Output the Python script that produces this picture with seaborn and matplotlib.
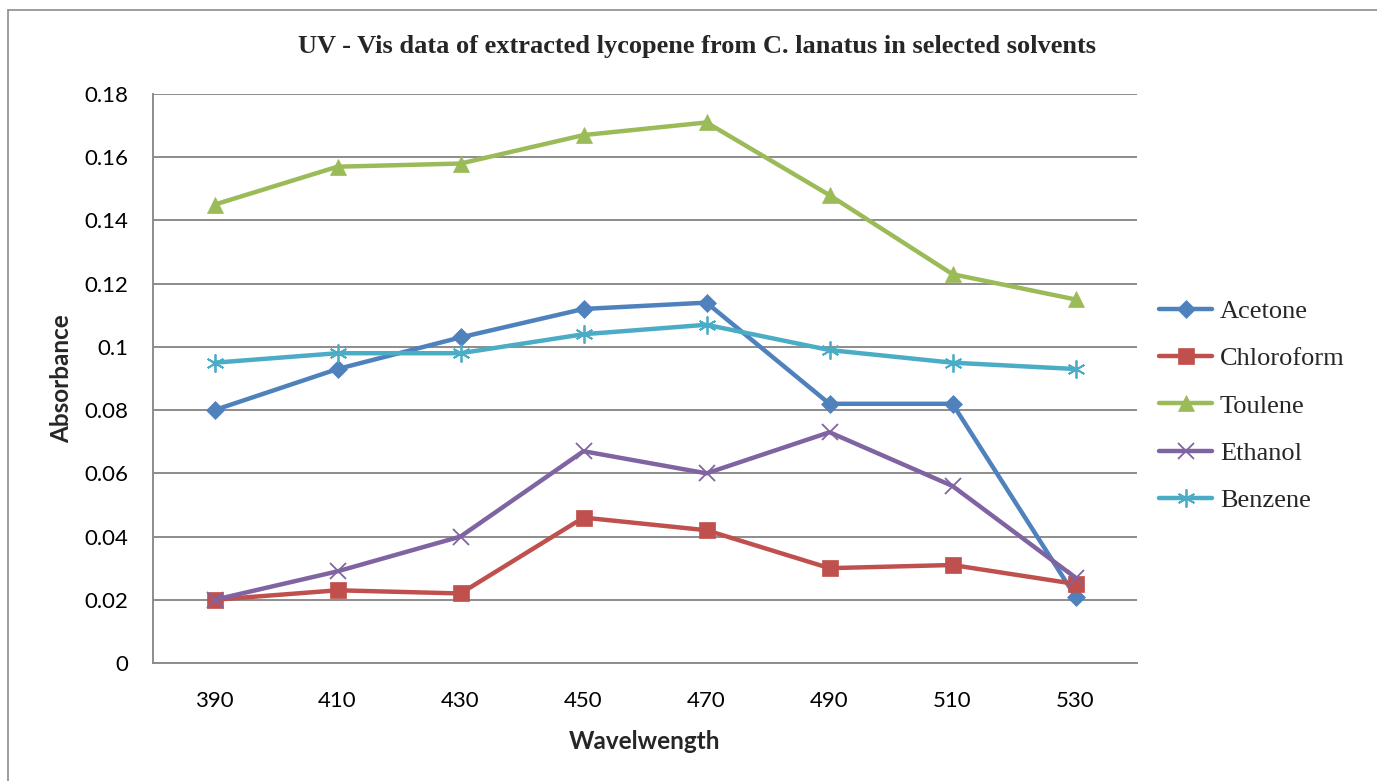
import matplotlib
matplotlib.use("Agg")
import matplotlib.pyplot as plt
from matplotlib.lines import Line2D
import seaborn as sns
import pandas as pd

wavelengths = ["390", "410", "430", "450", "470", "490", "510", "530"]
acetone = [0.080, 0.093, 0.103, 0.112, 0.114, 0.082, 0.082, 0.021]
chloroform = [0.020, 0.023, 0.022, 0.046, 0.042, 0.030, 0.031, 0.025]
toulene = [0.145, 0.157, 0.158, 0.167, 0.171, 0.148, 0.123, 0.115]
ethanol = [0.020, 0.029, 0.040, 0.067, 0.060, 0.073, 0.056, 0.027]
benzene = [0.095, 0.098, 0.098, 0.104, 0.107, 0.099, 0.095, 0.093]
series_names = ["Acetone", "Chloroform", "Toulene", "Ethanol", "Benzene"]
yticks = [0, 0.02, 0.04, 0.06, 0.08, 0.1, 0.12, 0.14, 0.16, 0.18]

sns.set_theme(style="white")
plt.rcParams['font.family'] = ['Lato', 'DejaVu Sans']

series_values = [acetone, chloroform, toulene, ethanol, benzene]
colors = ["#4F81BD", "#C0504D", "#9BBB59", "#8064A2", "#4BACC6"]
markers = ["D", "s", "^", "x", (6, 2, 0)]
msizes = [9, 11, 11, 11, 13]

fig = plt.figure(figsize=(13.77, 7.81), dpi=100)
ax = fig.add_axes([153/1377, 1-663/781, (1137-153)/1377, (663-94)/781])

for name, vals, c, m, ms in zip(series_names, series_values, colors, markers, msizes):
    df = pd.DataFrame({"Wavelwength": list(range(len(wavelengths))), "Absorbance": vals})
    unfilled = m in ("x",) or isinstance(m, tuple)
    sns.lineplot(data=df, x="Wavelwength", y="Absorbance", ax=ax, color=c,
                 marker=m, markersize=ms, linewidth=3.2, label=name,
                 markeredgecolor=c, markerfacecolor=c,
                 markeredgewidth=1.3 if unfilled else 0.5)

ax.set_xlim(-0.5, len(wavelengths) - 0.5)
ax.set_ylim(0, 0.18)
ax.set_xticks(range(len(wavelengths)))
ax.set_xticklabels(wavelengths)
ax.set_yticks(yticks)
ax.set_yticklabels([f"{v:g}" for v in yticks])
ax.tick_params(axis="both", labelsize=16, length=0, colors="black")
ax.tick_params(axis="x", pad=20)
ax.tick_params(axis="y", pad=18)
ax.yaxis.grid(True, color="#8C8C8C", linewidth=1.4)
ax.xaxis.grid(False)
for s in ["top", "right"]:
    ax.spines[s].set_visible(False)
for s in ["left", "bottom"]:
    ax.spines[s].set_color("#8C8C8C")
    ax.spines[s].set_linewidth(1.4)

ax.set_xlabel("Wavelwength", fontsize=17.5, fontweight="bold", labelpad=14)
ax.set_ylabel("Absorbance", fontsize=17.5, fontweight="bold", labelpad=8)

fig.text(697/1377, 1-47/781, "UV - Vis data of extracted lycopene from C. lanatus in selected solvents",
         ha="center", va="center", fontsize=19, fontweight="bold",
         family=["Liberation Serif", "DejaVu Serif"])

leg = ax.legend(loc="center left", bbox_to_anchor=(1.012, 0.452), frameon=False,
                prop={"family": "Liberation Serif", "size": 19},
                handlelength=2.0, labelspacing=0.9, handletextpad=0.3,
                borderaxespad=0)

# outer chart frame (top and left edges)
fig.add_artist(Line2D([8/1377, 1], [1-10/781, 1-10/781], color="#8C8C8C", linewidth=1.2,
                      transform=fig.transFigure))
fig.add_artist(Line2D([8/1377, 8/1377], [0, 1-10/781], color="#8C8C8C", linewidth=1.2,
                      transform=fig.transFigure))

fig.savefig("out.png", dpi=100, facecolor="white")
